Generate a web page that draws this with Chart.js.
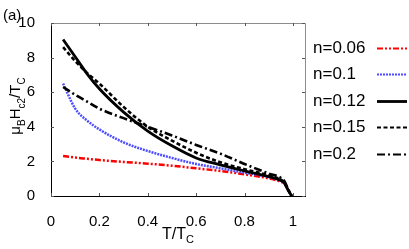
<!DOCTYPE html>
<html>
<head>
<meta charset="utf-8">
<script src="https://cdn.jsdelivr.net/npm/chart.js@4.4.0/dist/chart.umd.min.js"></script>
<style>
  html, body { margin: 0; padding: 0; background: #fff; }
  #wrap { width: 409px; height: 249px; position: relative; }
</style>
</head>
<body>
<div id="wrap"><canvas id="chart"></canvas></div>
<script>
// T/Tc sample points shared by every curve
const tValues = [0.05, 0.1, 0.15, 0.2, 0.3, 0.4, 0.5, 0.6, 0.7, 0.8, 0.9, 0.95, 0.965, 0.98, 0.995];

// mu_B Hc2 / Tc for each doping n
const n006 = [2.31, 2.22, 2.15, 2.08, 1.97, 1.87, 1.75, 1.6, 1.45, 1.25, 1.02, 0.82, 0.7, 0.35, 0];
const n010 = [6.5, 5.05, 4.35, 3.85, 3.1, 2.6, 2.2, 1.85, 1.6, 1.35, 1.1, 0.88, 0.72, 0.35, 0];
const n012 = [9.05, 8.05, 7.05, 6.2, 4.85, 3.75, 2.9, 2.2, 1.8, 1.45, 1.12, 0.9, 0.74, 0.35, 0];
const n015 = [8.6, 7.8, 7.1, 6.5, 5.15, 4.0, 3.2, 2.5, 1.95, 1.55, 1.2, 0.95, 0.78, 0.36, 0];
const n020 = [6.3, 5.85, 5.45, 5.05, 4.5, 4.0, 3.5, 2.95, 2.45, 1.85, 1.3, 1.05, 0.85, 0.4, 0];

const seriesLabels = ['n=0.06', 'n=0.1', 'n=0.12', 'n=0.15', 'n=0.2'];
const xTicks = [0, 0.2, 0.4, 0.6, 0.8, 1];
const yTicks = [0, 2, 4, 6, 8, 10];

const FONT = '"Liberation Sans", Arial, sans-serif';

function toPoints(ys) {
    return tValues.map((t, i) => ({ x: t, y: ys[i] }));
}

// draws text made of normal and subscript pieces, centred on (cx, cy)
function drawSubText(ctx, parts, cx, cy, size) {
    const subSize = Math.round(size * 0.68);
    let total = 0;
    parts.forEach(p => {
        ctx.font = (p.sub ? subSize : size) + 'px ' + FONT;
        p.w = ctx.measureText(p.t).width;
        total += p.w;
    });
    let x = cx - total / 2;
    ctx.textAlign = 'left';
    ctx.textBaseline = 'alphabetic';
    parts.forEach(p => {
        ctx.font = (p.sub ? subSize : size) + 'px ' + FONT;
        ctx.fillText(p.t, x, cy + size * 0.35 + (p.sub ? size * 0.3 : 0));
        x += p.w;
    });
}

const framePlugin = {
    id: 'frame',
    afterDraw(chart) {
        const ctx = chart.ctx;
        const a = chart.chartArea;
        const xs = chart.scales.x;
        const ys = chart.scales.y;
        ctx.save();

        // top and right border
        ctx.strokeStyle = '#8c8c8c';
        ctx.lineWidth = 1;
        ctx.beginPath();
        ctx.moveTo(a.left, a.top + 0.5);
        ctx.lineTo(a.right + 0.5, a.top + 0.5);
        ctx.lineTo(a.right + 0.5, a.bottom);
        ctx.stroke();

        // inward tick marks
        ctx.strokeStyle = '#555';
        ctx.beginPath();
        xTicks.forEach(v => {
            const px = Math.round(xs.getPixelForValue(v)) + 0.5;
            ctx.moveTo(px, a.bottom); ctx.lineTo(px, a.bottom - 3);
            ctx.moveTo(px, a.top); ctx.lineTo(px, a.top + 3);
        });
        yTicks.forEach(v => {
            const py = Math.round(ys.getPixelForValue(v)) + 0.5;
            ctx.moveTo(a.left, py); ctx.lineTo(a.left + 3, py);
            ctx.moveTo(a.right, py); ctx.lineTo(a.right - 3, py);
        });
        ctx.stroke();

        ctx.fillStyle = '#000';
        // panel label
        ctx.font = '15px ' + FONT;
        ctx.textAlign = 'left';
        ctx.textBaseline = 'alphabetic';
        ctx.fillText('(a)', 3, 20);

        // axis titles
        drawSubText(ctx, [{ t: 'T/T' }, { t: 'C', sub: true }], (a.left + a.right) / 2, 233, 16);
        ctx.save();
        ctx.translate(15, 106);
        ctx.rotate(-Math.PI / 2);
        drawSubText(ctx, [{ t: 'μ' }, { t: 'B', sub: true }, { t: 'H' }, { t: 'c2', sub: true }, { t: '/T' }, { t: 'C', sub: true }], 0, 0, 15);
        ctx.restore();

        // legend: label then line sample
        chart.data.datasets.forEach((ds, i) => {
            const y = Math.round(48 + i * 26.4) + 0.5;
            ctx.fillStyle = '#000';
            ctx.font = '17px ' + FONT;
            ctx.textAlign = 'left';
            ctx.textBaseline = 'middle';
            ctx.fillText(ds.label, 313, y);
            ctx.strokeStyle = ds.borderColor;
            ctx.lineWidth = ds.legendWidth;
            ctx.setLineDash(ds.borderDash);
            ctx.beginPath();
            ctx.moveTo(377, y);
            ctx.lineTo(407, y);
            ctx.stroke();
            ctx.setLineDash([]);
        });
        ctx.restore();
    }
};

const styles = [
    { color: '#ff0000', dash: [6, 2, 2, 2, 2, 2], width: 2.5, legendWidth: 2 },
    { color: '#4d4dff', dash: [2, 1], width: 2.5, legendWidth: 2 },
    { color: '#000000', dash: [], width: 2.8, legendWidth: 2.8 },
    { color: '#000000', dash: [4, 2.5], width: 2.6, legendWidth: 2.2 },
    { color: '#000000', dash: [8, 3, 2, 3], width: 2.6, legendWidth: 2.2 }
];
const seriesData = [n006, n010, n012, n015, n020];

new Chart(document.getElementById('chart'), {
    type: 'line',
    data: {
        datasets: seriesData.map((ys, i) => ({
            label: seriesLabels[i],
            data: toPoints(ys),
            borderColor: styles[i].color,
            borderDash: styles[i].dash,
            borderWidth: styles[i].width,
            legendWidth: styles[i].legendWidth,
            pointRadius: 0,
            fill: false,
            cubicInterpolationMode: 'monotone',
            order: 4 - i
        }))
    },
    options: {
        responsive: true,
        maintainAspectRatio: false,
        animation: false,
        devicePixelRatio: 1,
        layout: { padding: { top: 23, right: 104, left: 0, bottom: 0 } },
        plugins: { legend: { display: false }, tooltip: { enabled: false } },
        scales: {
            x: {
                type: 'linear',
                min: 0,
                max: 1.05,
                grid: { display: false },
                border: { display: true, color: '#000', width: 1 },
                afterBuildTicks: s => { s.ticks = xTicks.map(v => ({ value: v })); },
                afterFit: s => { s.height = 53; },
                ticks: { color: '#000', padding: 9, maxRotation: 0, font: { family: FONT, size: 15 }, callback: v => String(v) }
            },
            y: {
                min: 0,
                max: 10,
                grid: { display: false },
                border: { display: true, color: '#000', width: 1 },
                afterBuildTicks: s => { s.ticks = yTicks.map(v => ({ value: v })); },
                afterFit: s => { s.width = 51; },
                ticks: { color: '#000', padding: 8, font: { family: FONT, size: 15 } }
            }
        }
    },
    plugins: [framePlugin]
});
</script>
</body>
</html>
